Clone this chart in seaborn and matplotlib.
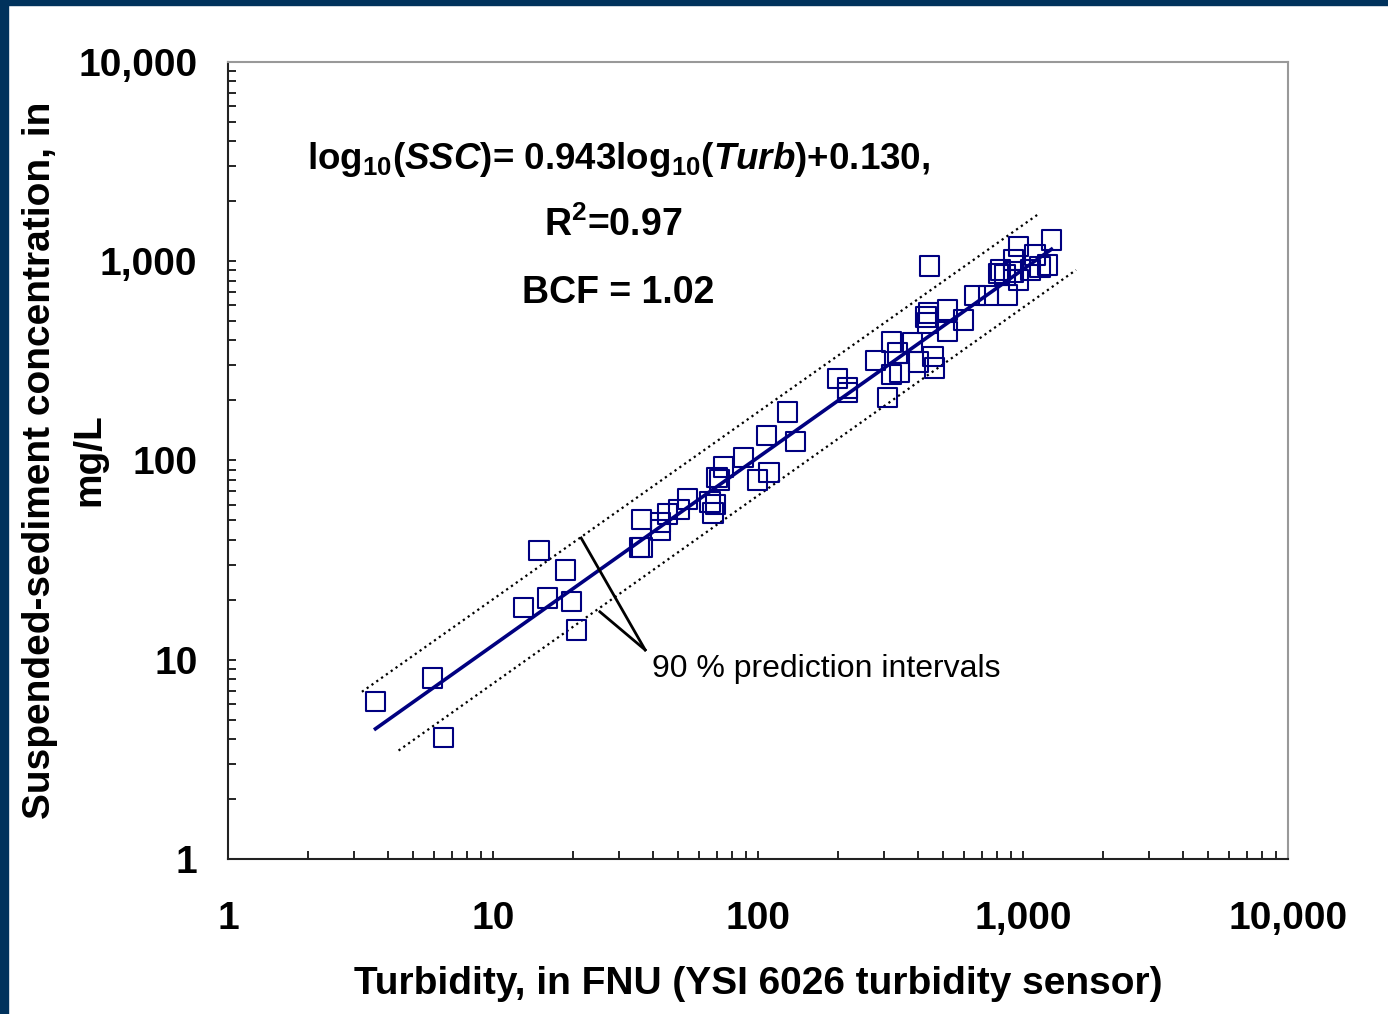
import numpy as np
import pandas as pd
import matplotlib
matplotlib.use("Agg")
import matplotlib.pyplot as plt
import matplotlib.ticker as mticker
from matplotlib.patches import Rectangle
import seaborn as sns

# turbidity (FNU) and SSC (mg/L)
turb = [3.6, 5.9, 6.5, 13.0, 14.9, 16.0, 18.7, 19.7, 20.7,
        36.2, 36.5, 35.6, 42.7, 42.7, 45.4, 50.3, 54.0, 65.9, 67.6, 69.0,
        73.8, 71.3, 70.0, 87.8, 99.2, 110, 108, 138, 129, 199, 217, 217,
        277, 307, 318, 335, 318, 343, 384, 402, 442, 430, 435, 440, 457, 463,
        517, 517, 594, 659, 738, 871, 819, 805, 855, 917, 958, 958, 1110,
        1159, 1232, 1276, 1063, 917]
ssc = [6.2, 8.1, 4.05, 18.2, 35.5, 20.4, 28.2, 19.5, 14.1,
       50.3, 36.4, 36.6, 48.6, 44.8, 53.9, 56.5, 64.1, 61.9, 54.5, 60.0,
       92.7, 79.8, 82.0, 103, 79.8, 86.6, 133, 124, 175, 259, 231, 220,
       319, 206, 393, 346, 269, 275, 389, 312, 946, 525, 490, 550, 331, 291,
       569, 442, 507, 670, 670, 677, 904, 870, 853, 883, 1180, 805, 1075,
       936, 957, 1278, 904, 1014]

# regression line and 90% prediction interval ends
fit_x = [3.6, 1280]
fit_y = [4.5, 1148]
upper_x = [3.2, 1130]
upper_y = [6.9, 1706]
lower_x = [4.4, 1585]
lower_y = [3.5, 904]

ticks = [1, 10, 100, 1000, 10000]

plt.rcParams['font.family'] = ['Liberation Sans', 'DejaVu Sans']
plt.rcParams['mathtext.fontset'] = 'custom'
plt.rcParams['mathtext.rm'] = 'Liberation Sans:bold'
plt.rcParams['mathtext.bf'] = 'Liberation Sans:bold'
plt.rcParams['mathtext.it'] = 'Liberation Sans:italic:bold'

navy = '#000080'
df = pd.DataFrame({'turb': turb, 'ssc': ssc})

fig = plt.figure(figsize=(13.88, 10.14), dpi=100)
ax = fig.add_axes([0.1643, 0.1529, 0.7637, 0.786])

sns.lineplot(x=upper_x, y=upper_y, ax=ax, color='black', lw=1.6, ls=':')
sns.lineplot(x=lower_x, y=lower_y, ax=ax, color='black', lw=1.6, ls=':')
sns.lineplot(x=fit_x, y=fit_y, ax=ax, color=navy, lw=2.6)
sns.scatterplot(data=df, x='turb', y='ssc', ax=ax, marker='s', s=190,
                facecolors='none', edgecolor=navy, linewidth=1.5, zorder=3)

ax.set_xscale('log')
ax.set_yscale('log')
ax.set_xlim(1, 10000)
ax.set_ylim(1, 10000)
ax.set_xticks(ticks)
ax.set_yticks(ticks)
fmt = mticker.FuncFormatter(lambda v, p: f'{v:,.0f}')
ax.xaxis.set_major_formatter(fmt)
ax.yaxis.set_major_formatter(fmt)
ax.xaxis.set_minor_formatter(mticker.NullFormatter())
ax.yaxis.set_minor_formatter(mticker.NullFormatter())
ax.tick_params(which='both', direction='in', length=6, width=1.2, color='black')
ax.tick_params(axis='x', which='major', labelsize=28, pad=30)
ax.tick_params(axis='y', which='major', labelsize=28, pad=22)
for lab in ax.get_xticklabels() + ax.get_yticklabels():
    lab.set_fontweight('bold')

for s in ['left', 'bottom']:
    ax.spines[s].set_color('#222222')
    ax.spines[s].set_linewidth(1.5)
for s in ['top', 'right']:
    ax.spines[s].set_color('#999999')
    ax.spines[s].set_linewidth(1.5)

ax.set_xlabel('Turbidity, in FNU (YSI 6026 turbidity sensor)', fontsize=28,
              fontweight='bold', labelpad=21)
ax.set_ylabel('')
# y label as two rotated lines so it stays inside the figure
fig.text(40 / 1388, 1 - 460 / 1014, 'Suspended-sediment concentration, in',
         rotation=90, ha='center', va='center', fontsize=28, fontweight='bold')
fig.text(89 / 1388, 1 - 460 / 1014, 'mg/L',
         rotation=90, ha='center', va='center', fontsize=28, fontweight='bold')

ax.text(0.368, 0.878, r'log$_{10}$($\mathit{SSC}$)= 0.943log$_{10}$($\mathit{Turb}$)+0.130,',
        transform=ax.transAxes, ha='center', va='center', fontsize=26.5, fontweight='bold')
ax.text(0.363, 0.795, r'R$^{2}$=0.97', transform=ax.transAxes, ha='center',
        va='center', fontsize=27, fontweight='bold')
ax.text(0.368, 0.710, 'BCF = 1.02', transform=ax.transAxes, ha='center',
        va='center', fontsize=27, fontweight='bold')

# pointer to the prediction intervals
ax.plot([37.5, 21.5], [11.2, 40.8], color='black', lw=2)
ax.plot([37.5, 25.3], [11.2, 17.4], color='black', lw=2)
ax.text(39.8, 9.0, '90 % prediction intervals', ha='left', va='center', fontsize=23)

# dark frame strips on top and left
fig.patches.append(Rectangle((0, 0), 8 / 1388, 1, transform=fig.transFigure,
                             color='#00325C', zorder=10))
fig.patches.append(Rectangle((0, 1 - 5 / 1014), 1, 5 / 1014, transform=fig.transFigure,
                             color='#00325C', zorder=10))

fig.savefig('out.png', dpi=100)
